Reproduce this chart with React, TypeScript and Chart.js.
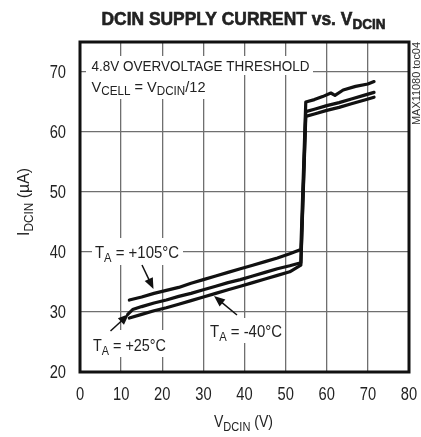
import React, { useEffect, useRef } from "react";
import { Chart, registerables } from "chart.js";

Chart.register(...registerables);

// Data
const xTop = [12, 15, 18, 21, 24, 27, 30, 33, 36, 39, 42, 45, 48, 51, 53.7, 54.9, 57, 59, 61, 62, 64, 67, 70, 71.5];
const yTop = [32.0, 32.5, 33.1, 33.6, 34.1, 34.8, 35.4, 36.0, 36.6, 37.2, 37.8, 38.4, 39.0, 39.7, 40.4, 65.0, 65.4, 65.9, 66.5, 66.1, 67.0, 67.6, 68.0, 68.4];

const xMid = [11.6, 12.8, 15, 18, 21, 24, 27, 30, 33, 36, 39, 42, 45, 48, 51, 53.7, 54.9, 57, 60, 63, 66, 69, 71.5];
const yMid = [29.6, 30.4, 30.9, 31.5, 32.0, 32.6, 33.1, 33.7, 34.3, 34.9, 35.4, 36.0, 36.6, 37.2, 37.7, 38.2, 63.4, 63.8, 64.4, 64.9, 65.5, 66.1, 66.6];

const xLow = [12, 15, 18, 21, 24, 27, 30, 33, 36, 39, 42, 45, 48, 51, 53.7, 54.9, 57, 60, 63, 66, 69, 71.5];
const yLow = [29.0, 29.6, 30.2, 30.7, 31.3, 31.9, 32.5, 33.1, 33.7, 34.3, 34.9, 35.5, 36.1, 36.7, 37.8, 62.6, 63.0, 63.6, 64.1, 64.7, 65.3, 65.8];

const seriesNames = ["TA = +105°C", "TA = +25°C", "TA = -40°C"];
const xTickStep = 10;
const yTickStep = 10;
const yMin = 20;
const yMax = 75;
const xMin = 0;
const xMax = 80;

const FONT = '"Liberation Sans", Arial, sans-serif';
const TEXT = "#222";
const SQUEEZE = 0.84;

type Part = { t: string; sub?: boolean };

function richWidth(ctx: CanvasRenderingContext2D, parts: Part[], size: number, weight = "normal") {
  let w = 0;
  for (const p of parts) {
    ctx.font = `${weight} ${p.sub ? Math.round(size * 0.78) : size}px ${FONT}`;
    w += ctx.measureText(p.t).width;
  }
  return w;
}

function drawRich(
  ctx: CanvasRenderingContext2D,
  parts: Part[],
  x: number,
  y: number,
  size: number,
  weight = "normal",
  targetWidth?: number,
  strokeW = 0
) {
  ctx.save();
  const w = richWidth(ctx, parts, size, weight);
  ctx.translate(x, y);
  if (targetWidth) ctx.scale(targetWidth / w, 1);
  ctx.textBaseline = "alphabetic";
  ctx.textAlign = "left";
  ctx.fillStyle = TEXT;
  ctx.strokeStyle = TEXT;
  ctx.lineWidth = strokeW;
  let cx = 0;
  for (const p of parts) {
    const s = p.sub ? Math.round(size * 0.78) : size;
    ctx.font = `${weight} ${s}px ${FONT}`;
    const yy = p.sub ? size * 0.22 : 0;
    ctx.fillText(p.t, cx, yy);
    if (strokeW > 0) ctx.strokeText(p.t, cx, yy);
    cx += ctx.measureText(p.t).width;
  }
  ctx.restore();
}

function squeezedText(
  ctx: CanvasRenderingContext2D,
  text: string,
  x: number,
  y: number,
  size: number,
  align: "left" | "center" | "right",
  baseline: CanvasTextBaseline
) {
  ctx.save();
  ctx.font = `${size}px ${FONT}`;
  ctx.fillStyle = TEXT;
  ctx.textBaseline = baseline;
  ctx.textAlign = align;
  ctx.translate(x, y);
  ctx.scale(SQUEEZE, 1);
  ctx.fillText(text, 0, 0);
  ctx.restore();
}

function arrow(ctx: CanvasRenderingContext2D, x1: number, y1: number, x2: number, y2: number) {
  const ang = Math.atan2(y2 - y1, x2 - x1);
  const hl = 11;
  const hw = 4.5;
  ctx.save();
  ctx.strokeStyle = "#111";
  ctx.fillStyle = "#111";
  ctx.lineWidth = 1.5;
  ctx.beginPath();
  ctx.moveTo(x1, y1);
  ctx.lineTo(x2 - Math.cos(ang) * hl * 0.8, y2 - Math.sin(ang) * hl * 0.8);
  ctx.stroke();
  ctx.beginPath();
  ctx.moveTo(x2, y2);
  ctx.lineTo(x2 - Math.cos(ang) * hl - Math.sin(ang) * hw, y2 - Math.sin(ang) * hl + Math.cos(ang) * hw);
  ctx.lineTo(x2 - Math.cos(ang) * hl + Math.sin(ang) * hw, y2 - Math.sin(ang) * hl - Math.cos(ang) * hw);
  ctx.closePath();
  ctx.fill();
  ctx.restore();
}

const decorPlugin = {
  id: "decor",
  beforeDatasetsDraw(chart: any) {
    const ctx = chart.ctx as CanvasRenderingContext2D;
    ctx.save();
    ctx.fillStyle = "#fff";
    // annotation boxes hiding grid lines
    ctx.fillRect(86, 56, 227, 19);
    ctx.fillRect(86, 74, 124, 25);
    ctx.fillRect(92, 238, 91, 27);
    ctx.fillRect(89, 330, 79, 27);
    ctx.fillRect(205, 318, 79, 25);
    ctx.restore();
  },
  afterDraw(chart: any) {
    const ctx = chart.ctx as CanvasRenderingContext2D;
    const a = chart.chartArea;
    // frame
    ctx.save();
    ctx.strokeStyle = "#111";
    ctx.lineWidth = 3;
    ctx.strokeRect(a.left, a.top, a.right - a.left, a.bottom - a.top);
    ctx.restore();

    // tick labels, placed by the library's scales
    const xs = chart.scales.x;
    for (const t of xs.ticks) {
      squeezedText(ctx, String(t.value), xs.getPixelForValue(t.value), a.bottom + 28, 17.5, "center", "alphabetic");
    }
    const ys = chart.scales.y;
    for (const t of ys.ticks) {
      squeezedText(ctx, String(t.value), a.left - 14, ys.getPixelForValue(t.value) + 6, 17.5, "right", "alphabetic");
    }

    // title
    drawRich(
      ctx,
      [{ t: "DCIN SUPPLY CURRENT vs. V" }, { t: "DCIN", sub: true }],
      101.5,
      25,
      18,
      "bold",
      284,
      0.6
    );

    // annotations
    drawRich(ctx, [{ t: "4.8V OVERVOLTAGE THRESHOLD" }], 91.5, 70.7, 15, "normal", 218);
    drawRich(
      ctx,
      [{ t: "V" }, { t: "CELL", sub: true }, { t: " = V" }, { t: "DCIN", sub: true }, { t: "/12" }],
      91.5,
      91.5,
      15,
      "normal",
      114
    );
    drawRich(ctx, [{ t: "T" }, { t: "A", sub: true }, { t: " = +105°C" }], 95, 258, 16, "normal", 84);
    drawRich(ctx, [{ t: "T" }, { t: "A", sub: true }, { t: " = +25°C" }], 93, 351, 16, "normal", 73);
    drawRich(ctx, [{ t: "T" }, { t: "A", sub: true }, { t: " = -40°C" }], 210, 337, 16, "normal", 72);

    arrow(ctx, 142, 265, 153.5, 289);
    arrow(ctx, 110.5, 331, 129, 314);
    arrow(ctx, 237, 315, 214, 296);

    // axis titles
    drawRich(ctx, [{ t: "V" }, { t: "DCIN", sub: true }, { t: " (V)" }], 214, 427, 16.5, "normal", 59);
    ctx.save();
    ctx.translate(29, 236);
    ctx.rotate(-Math.PI / 2);
    drawRich(ctx, [{ t: "I" }, { t: "DCIN", sub: true }, { t: " (µA)" }], 0, 0, 16, "normal", 68);
    ctx.restore();

    // figure id
    ctx.save();
    ctx.translate(420, 125);
    ctx.rotate(-Math.PI / 2);
    ctx.font = `10px ${FONT}`;
    ctx.fillStyle = "#333";
    const id = "MAX11080 toc04";
    const w = ctx.measureText(id).width;
    ctx.scale(83 / w, 1);
    ctx.fillText(id, 0, 0);
    ctx.restore();
  },
};

function mk(xs: number[], ys: number[]) {
  return xs.map((x, i) => ({ x, y: ys[i] }));
}

export default function App() {
  const ref = useRef<HTMLCanvasElement>(null);
  useEffect(() => {
    if (!ref.current) return;
    const lineStyle = {
      borderColor: "#111",
      borderWidth: 3.2,
      pointRadius: 0,
      tension: 0,
      fill: false,
      borderJoinStyle: "round",
      borderCapStyle: "round",
    };
    const chart = new Chart(ref.current, {
      type: "line",
      data: {
        datasets: [
          { label: seriesNames[0], data: mk(xTop, yTop), ...lineStyle },
          { label: seriesNames[1], data: mk(xMid, yMid), ...lineStyle },
          { label: seriesNames[2], data: mk(xLow, yLow), ...lineStyle },
        ],
      },
      options: {
        responsive: false,
        animation: false,
        layout: { padding: { top: 42, right: 12, left: 0, bottom: 0 } },
        plugins: { legend: { display: false }, tooltip: { enabled: false }, title: { display: false } },
        scales: {
          x: {
            type: "linear",
            min: xMin,
            max: xMax,
            ticks: { stepSize: xTickStep, display: false },
            grid: { color: "#6f6f6f", lineWidth: 1.3, drawTicks: false },
            border: { display: false },
            afterFit: (s: any) => {
              s.height = 65;
            },
          },
          y: {
            type: "linear",
            min: yMin,
            max: yMax,
            ticks: { stepSize: yTickStep, display: false },
            grid: { color: "#6f6f6f", lineWidth: 1.3, drawTicks: false },
            border: { display: false },
            afterBuildTicks: (s: any) => {
              s.ticks = s.ticks.filter((t: any) => t.value % yTickStep === 0);
            },
            afterFit: (s: any) => {
              s.width = 80;
            },
          },
        },
      },
      plugins: [decorPlugin],
    } as any);
    return () => chart.destroy();
  }, []);
  return (
    <div style={{ position: "fixed", left: 0, top: 0, width: 421, height: 437, background: "#fff" }}>
      <canvas ref={ref} width={421} height={437} style={{ width: 421, height: 437, display: "block" }} />
    </div>
  );
}
